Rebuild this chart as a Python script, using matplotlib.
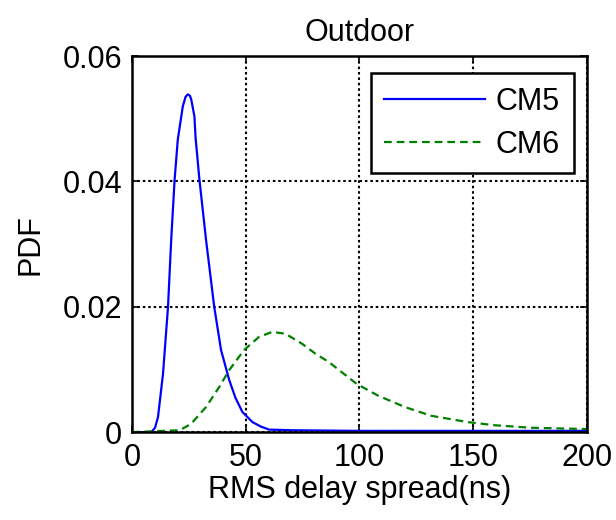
import matplotlib
matplotlib.use("Agg")
import matplotlib.pyplot as plt

plt.rcParams['font.family'] = ['Liberation Sans', 'DejaVu Sans']

# values
cm5_x = [0, 8.6, 10.2, 11.5, 13.7, 15.9, 17.3, 18.8, 20.2, 22.4, 23.6, 24.6, 25.5, 26.1, 27.5, 28.0,
         29.7, 32.6, 36.2, 39.2, 42.8, 45.5, 48.6, 53.0, 56.6, 60.3, 70, 100, 150, 200]
cm5_y = [0, 0, 0.0007, 0.0024, 0.0093, 0.020, 0.0307, 0.0403, 0.0467, 0.052, 0.0535, 0.0539, 0.0537,
         0.0531, 0.0504, 0.047, 0.0403, 0.0307, 0.020, 0.0131, 0.0083, 0.0055, 0.0032, 0.0016,
         0.0009, 0.0004, 0.0003, 0.0002, 0.0002, 0.0002]

cm6_x = [0, 21, 26, 32.6, 38.4, 42.8, 49.3, 55.9, 61.7, 67.5, 74.8, 80.7, 86.5,
         98.8, 108.3, 120, 131.6, 147.6, 159.3, 175.2, 198.6, 200]
cm6_y = [0, 0.0003, 0.0013, 0.004, 0.0072, 0.0099, 0.0131, 0.0152, 0.016, 0.0157,
         0.0141, 0.0125, 0.0112, 0.0077, 0.0058, 0.004, 0.0026, 0.0016, 0.0011,
         0.0007, 0.0005, 0.0005]

xticks = [0, 50, 100, 150, 200]
yticks = [0, 0.02, 0.04, 0.06]
ytick_labels = ['0', '0.02', '0.04', '0.06']

fig = plt.figure(figsize=(6.16, 5.2), dpi=100)
ax = fig.add_axes([0.214, 0.169, 0.739, 0.723])

ax.plot(cm5_x, cm5_y, color='#0000ff', linestyle='-', linewidth=1.6, label='CM5')
ax.plot(cm6_x, cm6_y, color='#008000', linestyle='--', linewidth=1.6,
        dashes=(3.5, 2.2), label='CM6')

ax.set_xlim(0, 200)
ax.set_ylim(0, 0.06)
ax.set_xticks(xticks)
ax.set_yticks(yticks)
ax.set_yticklabels(ytick_labels)
ax.tick_params(direction='in', top=True, right=True, labelsize=22, length=5,
               width=1.2)
ax.tick_params(axis='x', pad=8)
ax.tick_params(axis='y', pad=7)
ax.grid(True, color='black', linestyle=(0, (1.2, 1.4)), linewidth=1.5)
for s in ax.spines.values():
    s.set_linewidth(1.8)

ax.set_xlabel('RMS delay spread(ns)', fontsize=22, labelpad=1)
ax.set_ylabel('PDF', fontsize=22, labelpad=12)
ax.set_title('Outdoor', fontsize=22, pad=11)

leg = ax.legend(loc='upper right', fontsize=22, fancybox=False, framealpha=1,
                edgecolor='black', handlelength=3.3, handletextpad=0.35,
                borderpad=0.45, labelspacing=0.42, borderaxespad=0,
                bbox_to_anchor=(0.971, 0.955))
leg.get_frame().set_linewidth(1.8)

fig.savefig('out.png', dpi=100)
